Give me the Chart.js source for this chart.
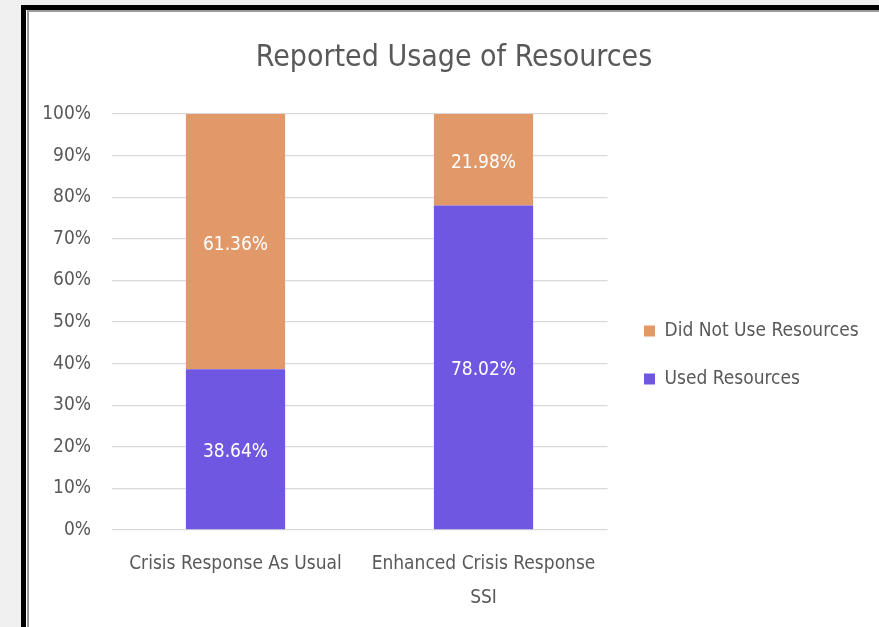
<!DOCTYPE html>
<html>
<head>
<meta charset="utf-8">
<script src="https://cdn.jsdelivr.net/npm/chart.js@4"></script>
<style>
  html, body { margin: 0; padding: 0; background: #f0f0f0; width: 879px; height: 627px; overflow: hidden; }
  #outer { position: absolute; left: 21px; top: 5px; width: 900px; height: 700px; border-left: 5px solid #000; border-top: 5px solid #000; background: #fff; }
  #inner { position: absolute; left: 27px; top: 10px; width: 900px; height: 615px; border-left: 2px solid #9a9a9a; border-top: 2px solid #9a9a9a; border-bottom: 2px solid #9a9a9a; background: #fff; }
  #wrap { position: absolute; left: 29px; top: 12px; width: 850px; height: 613px; }
</style>
</head>
<body>
<div id="outer"></div>
<div id="inner"></div>
<div id="wrap"><canvas id="c" width="850" height="613"></canvas></div>
<script>
const categories = ['Crisis Response As Usual', ['Enhanced Crisis Response', 'SSI']];
const usedResources = [38.64, 78.02];
const didNotUseResources = [61.36, 21.98];
const yTicks = [0, 10, 20, 30, 40, 50, 60, 70, 80, 90, 100];

const FONT = "'DejaVu Sans Condensed', 'DejaVu Sans', sans-serif";
const TXT = '#595959';

const layoutPlugin = {
  id: 'layoutTweaks',
  beforeUpdate(chart) {
    const lg = chart.legend;
    if (lg && !lg._patched) {
      const orig = lg.fit;
      lg.fit = function () { orig.call(this); this.width = 271.5; };
      lg._patched = true;
    }
  },
  afterLayout(chart) {
    const lg = chart.legend;
    if (lg) {
      const w = lg.right - lg.left;
      lg.left = 586; lg.right = 586 + w;
      lg.top = 280.5;
    }
  }
};

const valueLabels = {
  id: 'valueLabels',
  afterDatasetsDraw(chart) {
    const ctx = chart.ctx;
    ctx.save();
    ctx.fillStyle = '#ffffff';
    ctx.font = '19px ' + FONT;
    ctx.textAlign = 'center';
    ctx.textBaseline = 'middle';
    chart.data.datasets.forEach((ds, i) => {
      const meta = chart.getDatasetMeta(i);
      meta.data.forEach((bar, j) => {
        const v = ds.data[j];
        ctx.fillText(v.toFixed(2) + '%', bar.x, (bar.y + bar.base) / 2 + 3);
      });
    });
    ctx.restore();
  }
};

new Chart(document.getElementById('c'), {
  type: 'bar',
  data: {
    labels: categories,
    datasets: [
      { label: 'Used Resources', data: usedResources, backgroundColor: '#6F57E2', borderColor: '#6F57E2', borderWidth: 0 },
      { label: 'Did Not Use Resources', data: didNotUseResources, backgroundColor: '#E2996A', borderColor: '#E2996A', borderWidth: 0 }
    ]
  },
  options: {
    responsive: false,
    animation: false,
    events: [],
    datasets: { bar: { categoryPercentage: 0.4, barPercentage: 1 } },
    layout: { padding: 0 },
    plugins: {
      title: {
        display: true,
        text: 'Reported Usage of Resources',
        color: TXT,
        font: { family: FONT, size: 30, weight: 'normal', lineHeight: 1.2 },
        padding: { top: 28, bottom: 38 }
      },
      legend: {
        display: true,
        position: 'right',
        align: 'start',
        reverse: true,
        labels: {
          color: TXT,
          boxWidth: 11,
          boxHeight: 11,
          padding: 29,
          font: { family: FONT, size: 19 }
        }
      },
      tooltip: { enabled: false }
    },
    scales: {
      x: {
        stacked: true,
        grid: { display: false, drawTicks: false },
        border: { display: false },
        ticks: { color: TXT, padding: 17, font: { family: FONT, size: 19, lineHeight: 1.79 }, maxRotation: 0, autoSkip: false },
        afterFit(scale) { scale.height = 95; }
      },
      y: {
        stacked: true,
        min: 0,
        max: 100,
        grid: { color: '#d9d9d9', lineWidth: 1.3, drawTicks: false },
        border: { display: false },
        afterBuildTicks(scale) { scale.ticks = yTicks.map(v => ({ value: v })); },
        ticks: { color: TXT, padding: 20.5, font: { family: FONT, size: 19 }, callback: v => v + '%' },
        afterFit(scale) { scale.width = 82.5; }
      }
    }
  },
  plugins: [layoutPlugin, valueLabels]
});
</script>
</body>
</html>
